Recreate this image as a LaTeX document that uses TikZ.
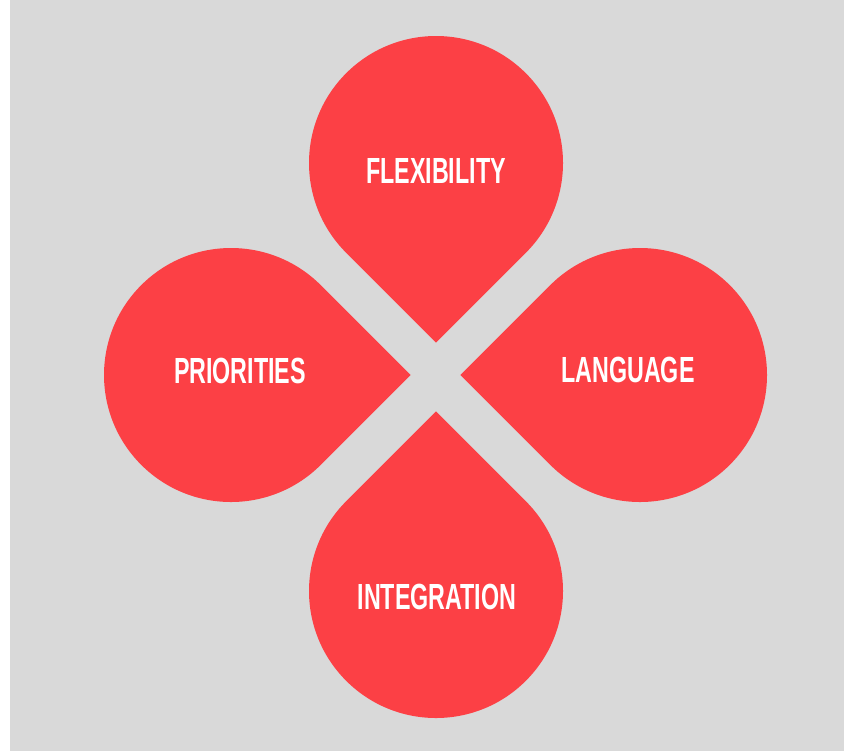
\documentclass[tikz,border=0pt]{standalone}
\usepackage{fontspec}
\usepackage{tikz}
\newfontfamily\petalfont{Liberation Sans}[FakeStretch=0.64]
\definecolor{petalred}{RGB}{252,64,69}
\definecolor{backgray}{RGB}{217,217,217}

\begin{document}
\begin{tikzpicture}[x=0.02cm, y=-0.02cm]
			\tikzstyle{Petal}	= [fill=petalred, draw=none]
			\tikzstyle{Label}	= [text=white, inner sep=0pt, anchor=base, font=\petalfont\bfseries\fontsize{20.7}{24}\selectfont]
			
			\useasboundingbox (0,0) rectangle (844,751);
			\fill [white] (0,0) rectangle (844,751);
			\fill [backgray] (10,0) rectangle (844,751);
			
			% four drops, tip pointing to the middle
			\foreach \cx/\cy/\dir in {436/163/90, 436/591/270, 231/375/0, 640/375/180}
				\fill [Petal, shift={(\cx,\cy)}] ({\dir+45}:127) arc [start angle=\dir+45, end angle=\dir+315, radius=127] -- (\dir:179.6) -- cycle;
			
			\node (flex) at (436,183) [Label] {FLEXIBILITY};
			\node (prio) at (240,383) [Label] {PRIORITIES};
			\node (lang) at (628,382) [Label] {LANGUAGE};
			\node (integ) at (437,609) [Label] {INTEGRATION};
		\end{tikzpicture}
\end{document}
